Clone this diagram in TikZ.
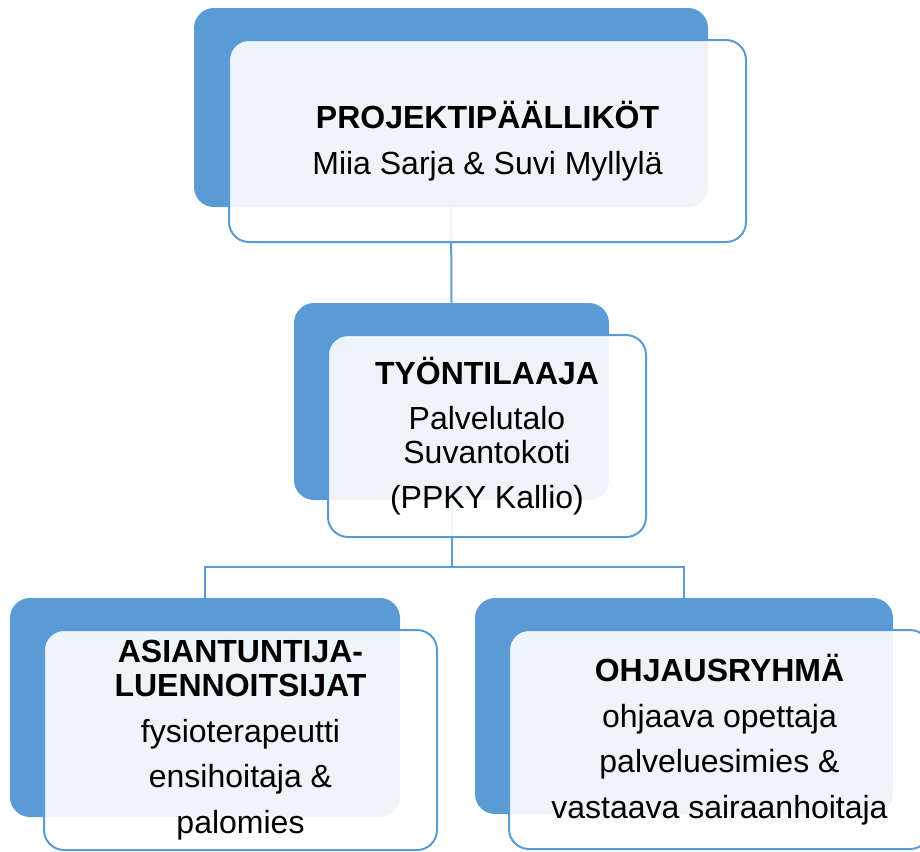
\documentclass[tikz,border=0pt]{standalone}
\usepackage{fontspec}
\setmainfont{Liberation Sans}
\definecolor{boxblue}{HTML}{5B9BD5}
\begin{document}
\begin{tikzpicture}[x=0.75pt,y=-0.75pt,
    backbox/.style={fill=boxblue,rounded corners=15pt,inner sep=0pt},
    frontbox/.style={draw=boxblue,line width=1.5pt,fill=white,fill opacity=0.9,
        text opacity=1,rounded corners=15pt,align=center,
        font=\fontsize{24}{25.5}\selectfont},
    link/.style={draw=boxblue,line width=1.5pt}]
    \useasboundingbox (0,0) rectangle (920,851);

    % back plates
    \node[backbox,minimum width=385.5pt,minimum height=149.25pt] (pmback) at (451,107.5) {};
    \node[backbox,minimum width=236.25pt,minimum height=147.75pt] (tlback) at (451.5,401.5) {};
    \node[backbox,minimum width=292.5pt,minimum height=164.25pt] (alback) at (205,707.5) {};
    \node[backbox,minimum width=313.5pt,minimum height=162pt] (orback) at (684,706) {};

    % connectors
    \coordinate (bus) at (451.5,567);
    \draw[link] (pmback.south) -- (tlback.north);
    \draw[link] (tlback.south) -- (bus);
    \draw[link] (bus) -| (alback.north);
    \draw[link] (bus) -| (orback.north);

    % front cards
    \node[frontbox,minimum width=387.75pt,minimum height=151.5pt] (pm) at (487.5,141)
        {\textbf{PROJEKTIPÄÄLLIKÖT}\\[9pt]
         Miia Sarja \& Suvi Myllylä};
    \node[frontbox,minimum width=238.5pt,minimum height=151.5pt] (tl) at (487,436)
        {\textbf{TYÖNTILAAJA}\\[8.5pt]
         Palvelutalo\\Suvantokoti\\[8.5pt]
         (PPKY Kallio)};
    \node[frontbox,minimum width=294.75pt,minimum height=165pt] (al) at (240.5,740)
        {\textbf{ASIANTUNTIJA-}\\\textbf{LUENNOITSIJAT}\\[9pt]
         fysioterapeutti\\[8.5pt]
         ensihoitaja \&\\[9pt]
         palomies};
    \node[frontbox,minimum width=315.75pt,minimum height=164.25pt] (or) at (719.5,739.5)
        {\textbf{OHJAUSRYHMÄ}\\[9pt]
         ohjaava opettaja\\[8.5pt]
         palveluesimies \&\\[8.5pt]
         vastaava sairaanhoitaja};
\end{tikzpicture}
\end{document}
